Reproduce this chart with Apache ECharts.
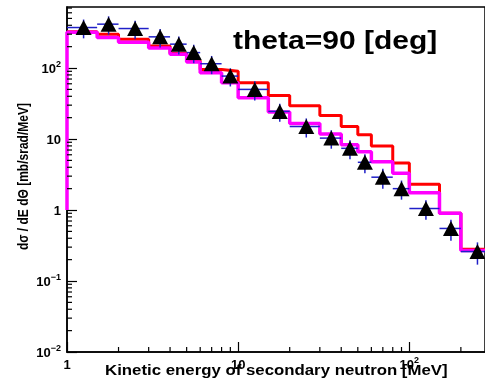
<!DOCTYPE html>
<html>
<head>
<meta charset="utf-8">
<script src="https://cdn.jsdelivr.net/npm/echarts@6/dist/echarts.min.js"></script>
<style>
  html, body { margin: 0; padding: 0; background: #fff; }
  #chart { width: 485px; height: 381px; }
</style>
</head>
<body>
<div id="chart"></div>
<script>
// Bin edges of the energy histograms [MeV]
const binEdges = [1, 1.5, 2, 3, 4, 5, 6, 8, 10, 15, 20, 30, 40, 50, 60, 80, 100, 150, 200, 300];

// Calculated spectra, one value per bin [mb/srad/MeV]
const calcRed = [325, 300, 255, 205, 162, 128, 95, 90, 62, 41, 29.5, 21.5, 15, 11.5, 8.0, 4.6, 2.3, 0.9, 0.28];
const calcMagenta = [320, 270, 230, 192, 156, 122, 86, 62, 38, 24, 16.5, 11.8, 8.3, 6.6, 4.8, 3.3, 1.75, 0.9, 0.27];
// Level the magenta outline starts from at the left edge
const magentaFloor = 1;

// Measured points: energy, cross section and its error
const measEnergy = [1.25, 1.75, 2.5, 3.5, 4.5, 5.5, 7, 9, 12.5, 17.5, 25, 35, 45, 55, 70, 90, 125, 175, 250];
const measValue = [372, 415, 360, 275, 217, 165, 115, 77, 50, 24.5, 15, 10.3, 7.4, 4.7, 2.9, 2.0, 1.05, 0.55, 0.26];
const measError = [110, 120, 105, 80, 62, 48, 33, 22, 15, 7, 4.5, 3.0, 2.2, 1.4, 0.9, 0.6, 0.32, 0.18, 0.09];

const xMin = 1, xMax = 276.7;
const yMin = 0.01, yMax = 724;

const FONT = 'Liberation Sans, Arial, Helvetica, sans-serif';

function stepPoints(edges, vals, floor) {
  const pts = [];
  if (floor != null) pts.push([edges[0], floor]);
  for (let i = 0; i < vals.length; i++) {
    pts.push([edges[i], vals[i]]);
    pts.push([edges[i + 1], vals[i]]);
  }
  return pts;
}

// Minor ticks at 2..9 within each decade
function minorTicks() {
  const out = [];
  for (let e = 0; e <= 2; e++) {
    for (let k = 2; k <= 9; k++) {
      const v = k * Math.pow(10, e);
      if (v < xMax) out.push([v, yMin, 0]);
    }
  }
  for (let e = -2; e <= 2; e++) {
    for (let k = 2; k <= 9; k++) {
      const v = k * Math.pow(10, e);
      if (v < yMax) out.push([xMin, v, 1]);
    }
  }
  return out;
}

function powLabel(value) {
  const lg = Math.log10(value);
  const ex = Math.round(lg);
  if (Math.abs(lg - ex) > 1e-6) return '';
  if (ex === 0) return '{b|1}';
  if (ex === 1) return '{b|10}';
  return '{b|10}{s|' + (ex < 0 ? '\u2212' + (-ex) : ex) + '}';
}

const labelRich = {
  b: { fontFamily: FONT, fontWeight: 'bold', fontSize: 13, color: '#000', lineHeight: 16, verticalAlign: 'bottom' },
  s: { fontFamily: FONT, fontWeight: 'bold', fontSize: 9, color: '#000', lineHeight: 16, verticalAlign: 'top' }
};

const chart = echarts.init(document.getElementById('chart'), null, { renderer: 'canvas' });

chart.setOption({
  animation: false,
  backgroundColor: '#fff',
  grid: {
    left: 67, top: 7, right: -2, bottom: 29,
    show: true, borderColor: '#000', borderWidth: 1.5
  },
  xAxis: {
    type: 'log', logBase: 10, min: xMin, max: xMax,
    axisLine: { show: true, lineStyle: { color: '#000', width: 1.5 } },
    axisTick: { show: true, inside: true, length: 10, lineStyle: { color: '#000', width: 1.2 } },
    splitLine: { show: false },
    axisLabel: { margin: 4, formatter: powLabel, rich: labelRich, showMinLabel: true, showMaxLabel: false }
  },
  yAxis: {
    type: 'log', logBase: 10, min: yMin, max: yMax,
    axisLine: { show: true, lineStyle: { color: '#000', width: 1.5 } },
    axisTick: { show: true, inside: true, length: 10, lineStyle: { color: '#000', width: 1.2 } },
    splitLine: { show: false },
    axisLabel: { margin: 6, formatter: powLabel, rich: labelRich, showMinLabel: true, showMaxLabel: false }
  },
  graphic: [
    {
      type: 'text', left: 233, top: 30, scaleX: 1.2, z: 100,
      style: { text: 'theta=90 [deg]', font: 'bold 25px ' + FONT, fill: '#000' }
    },
    {
      type: 'text', left: 105, top: 364, scaleX: 1.2, z: 100,
      style: { text: 'Kinetic energy of secondary neutron [MeV]', font: 'bold 14px ' + FONT, fill: '#000' }
    },
    {
      type: 'text', x: 17, y: 250, rotation: Math.PI / 2, scaleY: 1.15, z: 100,
      style: { text: 'd\u03c3 / dE d\u0398 [mb/srad/MeV]', font: 'bold 12px ' + FONT, fill: '#000' }
    }
  ],
  series: [
    {
      type: 'custom',
      name: 'minor ticks',
      silent: true,
      z: 5,
      data: minorTicks(),
      renderItem: function (params, api) {
        const p = api.coord([api.value(0), api.value(1)]);
        const kind = api.value(2);
        const shape = kind === 0
          ? { x1: p[0], y1: p[1], x2: p[0], y2: p[1] - 5 }
          : { x1: p[0], y1: p[1], x2: p[0] + 5, y2: p[1] };
        return { type: 'line', shape: shape, style: { stroke: '#000', lineWidth: 1.2 } };
      }
    },
    {
      type: 'line',
      name: 'red',
      data: stepPoints(binEdges, calcRed, null),
      showSymbol: false, symbol: 'none',
      lineStyle: { color: '#ff0000', width: 3 },
      clip: true, z: 2
    },
    {
      type: 'line',
      name: 'magenta',
      data: stepPoints(binEdges, calcMagenta, magentaFloor),
      showSymbol: false, symbol: 'none',
      lineStyle: { color: '#ff00ff', width: 3.5 },
      clip: true, z: 3
    },
    {
      type: 'custom',
      name: 'errors',
      z: 4,
      data: measEnergy.map((e, i) => [e, measValue[i], measError[i], binEdges[i], binEdges[i + 1]]),
      renderItem: function (params, api) {
        const v = api.value(1), err = api.value(2);
        const c = api.coord([api.value(0), v]);
        const lo = api.coord([api.value(3), v]);
        const hi = api.coord([api.value(4), v]);
        const top = api.coord([api.value(0), v + err]);
        const bot = api.coord([api.value(0), v - err]);
        const st = { stroke: '#1f1fc8', lineWidth: 1.5 };
        return {
          type: 'group',
          children: [
            { type: 'line', shape: { x1: lo[0], y1: c[1], x2: hi[0], y2: c[1] }, style: st },
            { type: 'line', shape: { x1: c[0], y1: top[1], x2: c[0], y2: bot[1] }, style: st }
          ]
        };
      },
      clip: true
    },
    {
      type: 'scatter',
      name: 'data',
      z: 6,
      data: measEnergy.map((e, i) => [e, measValue[i]]),
      symbol: 'triangle',
      symbolSize: [16, 15],
      itemStyle: { color: '#000', opacity: 1 }
    }
  ]
});
</script>
</body>
</html>
